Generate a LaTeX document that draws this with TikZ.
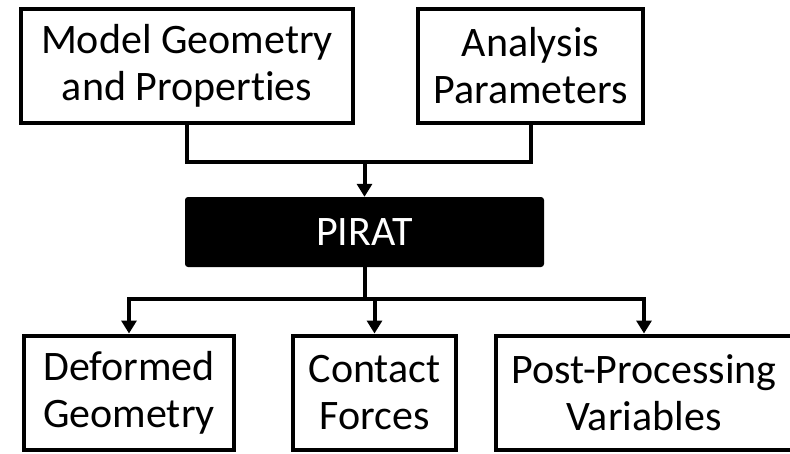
\documentclass[tikz,border=0pt]{standalone}
\usepackage{fontspec}
\setmainfont{Carlito}[Ligatures=NoCommon]
\usetikzlibrary{positioning}
\usetikzlibrary{arrows.meta}

\tikzset{
	stage/.style={draw, line width=4pt, align=center, inner sep=0pt,
		minimum height=114pt, font=\fontsize{42}{47}\selectfont},
	solver/.style={fill=black, text=white, rounded corners=3pt, inner sep=0pt,
		minimum width=359pt, minimum height=70pt, font=\fontsize{42}{47}\selectfont},
	link/.style={line width=4pt},
	feed/.style={link, -{Triangle[length=13pt,width=15pt]}},
}

\begin{document}
\begin{tikzpicture}[x=1pt,y=-1pt]
	
	% picture frame, the last box runs off the right edge
	\clip (0,0) rectangle (790,453);
	
	% inputs
	\node[stage, minimum width=332pt] (Model) at (187,66) {Model Geometry\\and Properties};
	\node[stage, minimum width=225pt] (Analysis) at (530.5,66) {Analysis\\Parameters};
	
	% the code itself
	\node[solver] (Pirat) at (364.5,232) {PIRAT};
	
	% outputs
	\node[stage, minimum width=210pt] (Deformed) at (129,392.5) {Deformed\\Geometry};
	\node[stage, minimum width=163pt] (Contact) at (374.5,392.5) {Contact\\Forces};
	\node[stage, minimum width=296pt] (Post) at (644,392.5) {Post-Processing\\Variables};
	
	% junctions of the connectors
	\coordinate (Join) at (364.5,162);
	\coordinate (Split) at (364.5,299);
	
	%%%%%%%%%%%%%%%%%%%%%%%%%%%%%%%%%%%%%%%%%%%%%%%%%%%%%%%%%%%%%%
	\draw[link] (Model.south) |- (Join) -| (Analysis.south);
	\draw[feed] (Join) -- (Pirat.north);
	
	\draw[link] (Pirat.south) -- (Split);
	\draw[feed] (Split) -| (Deformed.north);
	\draw[feed] (Split) -| (Contact.north);
	\draw[feed] (Split) -| (Post.north);
	
\end{tikzpicture}
\end{document}
